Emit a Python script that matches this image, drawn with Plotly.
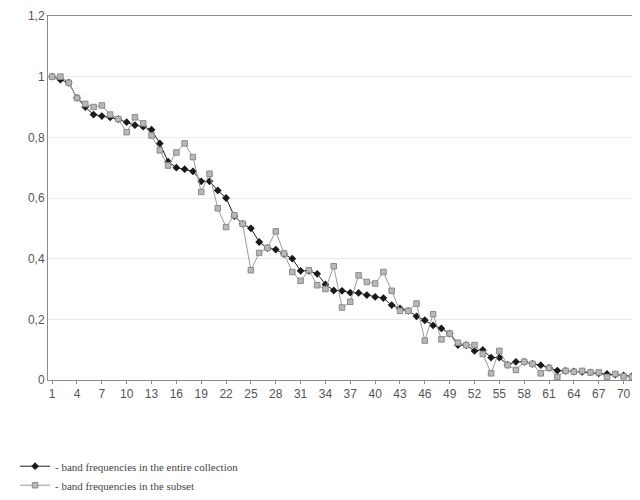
import plotly.graph_objects as go

categories = list(range(1, 72))
tick_labels = list(range(1, 71, 3))

entire = [1.0, 0.99, 0.98, 0.93, 0.90, 0.875, 0.87, 0.866, 0.86, 0.85,
          0.84, 0.835, 0.825, 0.78, 0.72, 0.70, 0.695, 0.688, 0.655, 0.655,
          0.625, 0.60, 0.54, 0.515, 0.50, 0.455, 0.435, 0.43, 0.415, 0.40,
          0.36, 0.36, 0.35, 0.315, 0.295, 0.294, 0.288, 0.287, 0.28, 0.274,
          0.27, 0.247, 0.236, 0.228, 0.21, 0.197, 0.18, 0.17, 0.153, 0.115,
          0.115, 0.096, 0.099, 0.074, 0.074, 0.05, 0.06, 0.06, 0.053, 0.049,
          0.04, 0.031, 0.03, 0.028, 0.027, 0.025, 0.022, 0.02, 0.018, 0.015,
          0.012]

subset = [1.0, 1.0, 0.98, 0.93, 0.91, 0.90, 0.905, 0.875, 0.86, 0.817,
          0.866, 0.846, 0.806, 0.757, 0.707, 0.75, 0.78, 0.735, 0.62, 0.68,
          0.566, 0.504, 0.543, 0.515, 0.362, 0.419, 0.436, 0.49, 0.417, 0.356,
          0.327, 0.362, 0.3125, 0.30, 0.375, 0.239, 0.258, 0.345, 0.323, 0.318,
          0.356, 0.294, 0.228, 0.228, 0.252, 0.13, 0.217, 0.134, 0.153, 0.123,
          0.115, 0.115, 0.086, 0.022, 0.096, 0.049, 0.033, 0.06, 0.053, 0.022,
          0.04, 0.01, 0.03, 0.027, 0.03, 0.025, 0.025, 0.01, 0.02, 0.012,
          0.01]

series_names = ["- band frequencies in the entire collection",
                "- band frequencies in the subset"]

fig = go.Figure()
fig.add_trace(go.Scatter(
    x=categories, y=entire, mode="lines+markers", name=series_names[0],
    line=dict(color="#222222", width=1),
    marker=dict(symbol="diamond", size=6, color="#1a1a1a"),
))
fig.add_trace(go.Scatter(
    x=categories, y=subset, mode="lines+markers", name=series_names[1],
    line=dict(color="#9a9a9a", width=1),
    marker=dict(symbol="square", size=5.5, color="#b8b8b8",
                line=dict(color="#8a8a8a", width=1)),
))

# page has an 8px body margin, so the figure is sized 632x492
fig.update_layout(
    width=632, height=492,
    margin=dict(l=40, r=4, t=8, b=120, autoexpand=False),
    paper_bgcolor="white", plot_bgcolor="white",
    separators=",.",
    font=dict(family="Liberation Sans, Arial, sans-serif", size=12, color="#555555"),
    showlegend=True,
    legend=dict(
        x=-0.056, xanchor="left", y=-0.197, yanchor="top",
        orientation="v", bgcolor="rgba(0,0,0,0)",
        font=dict(family="Liberation Serif, Times New Roman, serif", size=11, color="#444444"),
        itemwidth=30, tracegroupgap=0,
    ),
)
fig.update_xaxes(
    range=[0.5, 71.5], tickmode="array", tickvals=tick_labels,
    ticktext=[str(t) for t in tick_labels],
    showgrid=False, zeroline=False, automargin=False,
    showline=True, linecolor="#8a8a8a", linewidth=1, mirror=True,
    ticks="outside", ticklen=3, tickcolor="#8a8a8a",
    tickfont=dict(size=12, color="#555555"),
)
fig.update_yaxes(
    range=[0, 1.2], tickmode="array", tickvals=[0, 0.2, 0.4, 0.6, 0.8, 1.0, 1.2],
    showgrid=True, gridcolor="#ececec", gridwidth=1, zeroline=False, automargin=False,
    showline=True, linecolor="#8a8a8a", linewidth=1, mirror=True,
    ticks="", tickfont=dict(size=12, color="#555555"),
)

fig.write_html("out.html")
